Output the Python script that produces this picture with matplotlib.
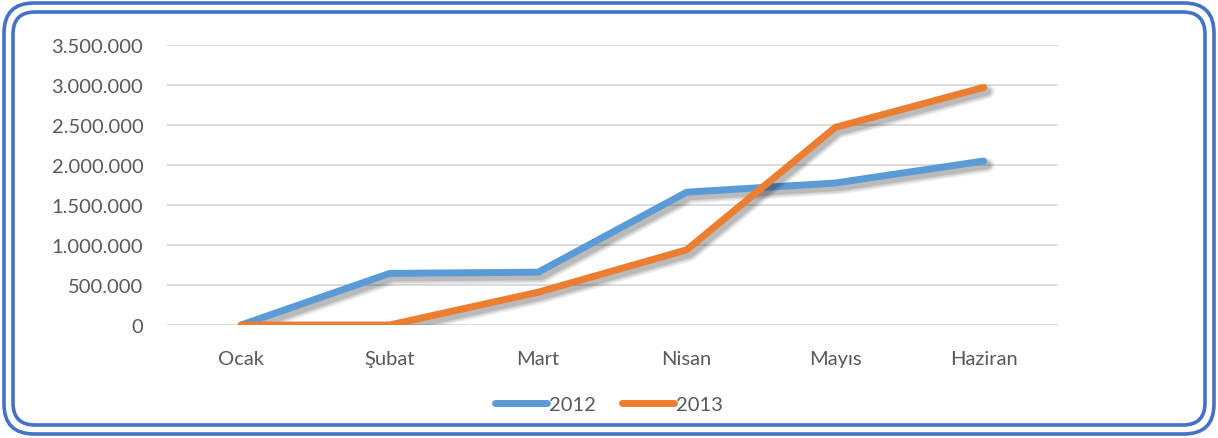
import matplotlib.pyplot as plt
import matplotlib.patheffects as pe
from matplotlib.patches import FancyBboxPatch
from matplotlib.ticker import FuncFormatter

# Data
months = ['Ocak', 'Şubat', 'Mart', 'Nisan', 'Mayıs', 'Haziran']
y2012 = [0, 645000, 660000, 1660000, 1775000, 2050000]
y2013 = [0, 0, 410000, 940000, 2470000, 2970000]
yticks = [0, 500000, 1000000, 1500000, 2000000, 2500000, 3000000, 3500000]

plt.rcParams['font.family'] = ['Lato', 'DejaVu Sans']
text_color = '#595959'
blue = '#5B9BD5'
orange = '#ED7D31'
frame = '#4472C4'

fig = plt.figure(figsize=(12.18, 4.39), dpi=100)

# Double rounded frame around the chart
w, h = 1218, 439
for inset, r in [(4, 30), (13, 22)]:
    box = FancyBboxPatch((inset / w, inset / h), 1 - 2 * inset / w, 1 - 2 * inset / h,
                         boxstyle=f'round,pad=0,rounding_size={r / w}',
                         transform=fig.transFigure, fill=False,
                         edgecolor=frame, linewidth=2.6,
                         mutation_aspect=w / h)
    fig.patches.append(box)

ax = fig.add_axes([0.137, 0.2574, 0.7316, 0.6378])

# soft drop shadow, built from a few faint offset strokes
shadow = [pe.SimpleLineShadow(offset=(2.5, -3), shadow_color='black', alpha=0.07, linewidth=10.5),
          pe.SimpleLineShadow(offset=(2.5, -3), shadow_color='black', alpha=0.10, linewidth=8),
          pe.SimpleLineShadow(offset=(2.5, -3), shadow_color='black', alpha=0.12, linewidth=5.5),
          pe.Normal()]

x = range(len(months))
ax.plot(x, y2012, color=blue, linewidth=5, solid_capstyle='round',
        solid_joinstyle='round', label='2012', path_effects=shadow, zorder=3)
ax.plot(x, y2013, color=orange, linewidth=5, solid_capstyle='round',
        solid_joinstyle='round', label='2013', path_effects=shadow, zorder=3)

ax.set_xlim(-0.5, len(months) - 0.5)
ax.set_ylim(0, 3500000)
ax.set_yticks(yticks)
ax.yaxis.set_major_formatter(FuncFormatter(lambda v, p: f'{int(v):,}'.replace(',', '.')))
ax.set_xticks(list(x))
ax.set_xticklabels(months)
ax.grid(axis='y', color='#D9D9D9', linewidth=1.3)
ax.set_axisbelow(True)
for s in ax.spines.values():
    s.set_visible(False)
ax.tick_params(axis='both', length=0, labelsize=14.5, colors=text_color)
ax.tick_params(axis='y', pad=17)
ax.tick_params(axis='x', pad=18)

leg = fig.legend(loc='center', bbox_to_anchor=(0.5, 0.077), ncol=2, frameon=False,
                 fontsize=14.5, handlelength=2.6, handletextpad=0.1, columnspacing=1.3)
for t in leg.get_texts():
    t.set_color(text_color)
for l in leg.get_lines():
    l.set_path_effects([])
    l.set_linewidth(5)
    l.set_solid_capstyle('round')

fig.savefig('out.png', dpi=100)
